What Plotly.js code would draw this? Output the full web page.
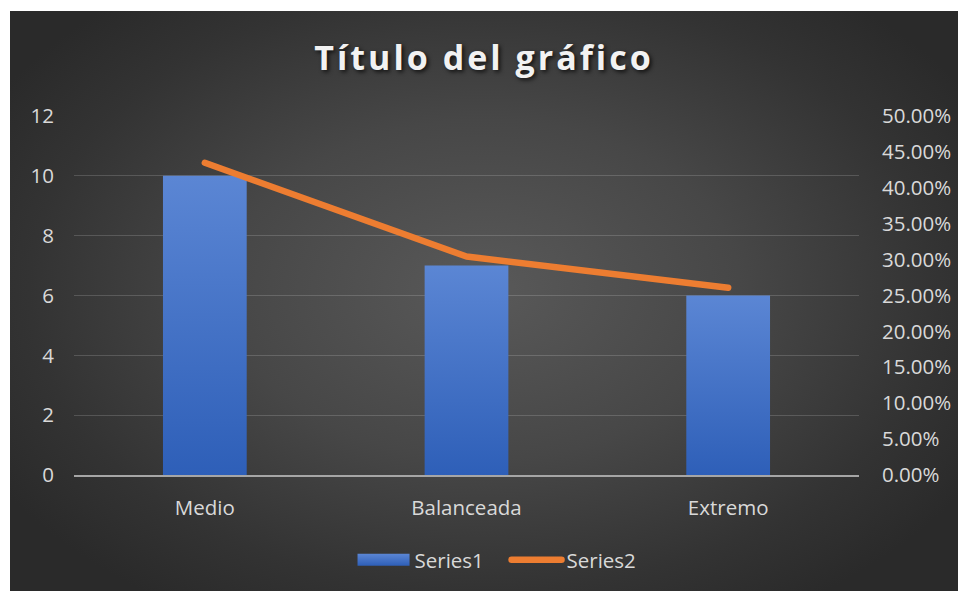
<!DOCTYPE html>
<html>
<head>
<meta charset="utf-8">
<script src="https://cdn.plot.ly/plotly-3.0.1.min.js"></script>
<style>
  html, body { margin: 0; padding: 0; background: #ffffff; }
  #chart {
    position: absolute; left: 10px; top: 11px; width: 948px; height: 580px;
    background: radial-gradient(ellipse 60% 65% at 50% 48%, #595959 0%, #474747 45%, #333333 80%, #2a2a2a 100%);
  }
  .gtitle { letter-spacing: 3px; }
</style>
</head>
<body>
<div id="chart"></div>
<script>
const categories = ["Medio", "Balanceada", "Extremo"];
const series1 = [10, 7, 6];
const series2 = [0.4348, 0.3043, 0.2609];
const leftTicks = [0, 2, 4, 6, 8, 10, 12];
const rightTicks = [0, 0.05, 0.10, 0.15, 0.20, 0.25, 0.30, 0.35, 0.40, 0.45, 0.50];

const tickFont = { family: "Open Sans, sans-serif", size: 20.5, color: "#d9d9d9" };

const traces = [
  {
    type: "bar", name: "Series1", x: categories, y: series1,
    marker: { color: "#4472c4", line: { width: 0 } },
    yaxis: "y", hoverinfo: "none"
  },
  {
    type: "scatter", mode: "lines", name: "Series2", x: categories, y: series2,
    line: { color: "#ed7d31", width: 6.5 },
    yaxis: "y2", hoverinfo: "none"
  }
];

const layout = {
  width: 948, height: 580,
  paper_bgcolor: "rgba(0,0,0,0)", plot_bgcolor: "rgba(0,0,0,0)",
  margin: { l: 64, r: 99, t: 105, b: 115 },
  title: {
    text: "Título del gráfico",
    font: { family: "Open Sans, sans-serif", size: 34, weight: 700, color: "#f2f2f2",
            shadow: "2px 2px 4px rgba(0,0,0,0.75)" },
    x: 0.5, xanchor: "center", y: 1 - 47 / 580, yanchor: "middle"
  },
  bargap: 0.68,
  showlegend: true,
  legend: {
    orientation: "h", x: 0.551, xanchor: "center", y: -0.233, yanchor: "middle",
    font: tickFont, bgcolor: "rgba(0,0,0,0)", itemwidth: 50, entrywidth: 87,
    traceorder: "normal"
  },
  xaxis: {
    type: "category", range: [-0.5, 2.5], tickfont: tickFont,
    showgrid: false, zeroline: false, showline: true, linecolor: "#a6a6a6", linewidth: 1.5,
    ticks: "", ticklabelstandoff: 14, fixedrange: true
  },
  yaxis: {
    range: [0, 12], tickvals: leftTicks, tickfont: tickFont,
    showgrid: true, gridcolor: "rgba(255,255,255,0.16)", gridwidth: 1.3,
    zeroline: false, showline: false, ticks: "", ticklabelstandoff: 19, fixedrange: true
  },
  yaxis2: {
    overlaying: "y", side: "right", range: [0, 0.5], tickvals: rightTicks,
    tickformat: ".2%", tickfont: tickFont, showgrid: false, zeroline: false,
    showline: false, ticks: "", ticklabelstandoff: 22, fixedrange: true
  }
};

Plotly.newPlot("chart", traces, layout, { displayModeBar: false, staticPlot: true }).then(function (gd) {
  const svg = gd.querySelector("svg.main-svg");
  const ns = "http://www.w3.org/2000/svg";
  let defs = svg.querySelector("defs");
  const grad = document.createElementNS(ns, "linearGradient");
  grad.setAttribute("id", "barGrad");
  grad.setAttribute("x1", "0"); grad.setAttribute("y1", "0");
  grad.setAttribute("x2", "0"); grad.setAttribute("y2", "1");
  [["0%", "#5b86d4"], ["100%", "#2e5fb8"]].forEach(function (s) {
    const st = document.createElementNS(ns, "stop");
    st.setAttribute("offset", s[0]); st.setAttribute("stop-color", s[1]);
    grad.appendChild(st);
  });
  defs.appendChild(grad);
  gd.querySelectorAll(".bars path").forEach(function (p) {
    p.style.fill = "url(#barGrad)";
  });
  gd.querySelectorAll(".js-line").forEach(function (p) {
    p.style.strokeLinecap = "round"; p.style.strokeLinejoin = "round";
  });
  // widen the bar legend swatch to the full symbol area
  const legendItems = gd.querySelectorAll(".legend .traces");
  if (legendItems.length) {
    const firstSwatch = legendItems[0].querySelector(".legendpoints path");
    if (firstSwatch) {
      firstSwatch.setAttribute("d", "M3,6H55V-6H3Z");
      firstSwatch.setAttribute("transform", "");
      firstSwatch.style.fill = "url(#barGrad)";
      const parentG = firstSwatch.parentNode;
      if (parentG && parentG.getAttribute("transform")) parentG.setAttribute("transform", "");
    }
  }
});
</script>
</body>
</html>
